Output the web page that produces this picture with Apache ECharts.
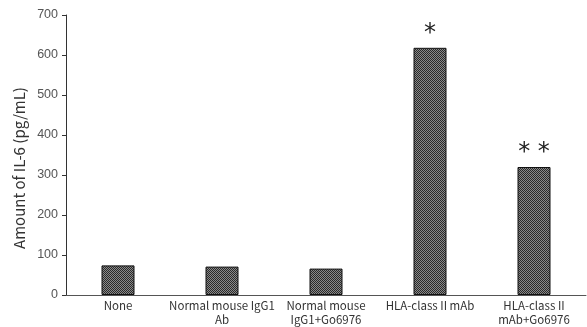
<!DOCTYPE html>
<html><head><meta charset="utf-8">
<script src="https://cdn.jsdelivr.net/npm/echarts@6/dist/echarts.min.js"></script>
<style>html,body{margin:0;padding:0;background:#fff}#c{width:587px;height:327px}</style>
</head><body><div id="c"></div>
<script>
const categories = ['None', 'Normal mouse IgG1\nAb', 'Normal mouse\nIgG1+Go6976', 'HLA-class II mAb', 'HLA-class II\nmAb+Go6976'];
const values = [74, 71, 66, 618, 320];
const marks = ['', '', '', '*', '* *'];
const yTicks = [0, 100, 200, 300, 400, 500, 600, 700];
const yName = 'Amount of IL-6 (pg/mL)';

const pc = document.createElement('canvas');
pc.width = 2; pc.height = 2;
const g = pc.getContext('2d');
g.fillStyle = '#8a8a8a'; g.fillRect(0,0,2,2);
g.fillStyle = '#2a2a2a'; g.fillRect(0,0,1,1); g.fillRect(1,1,1,1);

const chart = echarts.init(document.getElementById('c'));
chart.setOption({
  animation: false,
  grid: {left: 66, right: 1, top: 15, bottom: 32},
  graphic: [{
    type: 'text', x: 19, y: 168, rotation: Math.PI / 2,
    style: {text: yName, fill: '#333', fontSize: 15, fontFamily: 'Noto Sans CJK JP',
      align: 'center', verticalAlign: 'middle'}
  }],
  xAxis: {
    type: 'category', data: categories,
    axisLine: {lineStyle: {color: '#555', width: 1}},
    axisTick: {show: false},
    axisLabel: {color: '#333', fontSize: 11.5, fontFamily: 'Noto Sans CJK JP', lineHeight: 14, margin: 4, interval: 0}
  },
  yAxis: {
    type: 'value', min: yTicks[0], max: yTicks[yTicks.length-1], interval: 100,
    axisLine: {show: true, lineStyle: {color: '#333', width: 1}},
    axisTick: {show: true, length: 4, lineStyle: {color: '#333'}},
    splitLine: {show: false},
    axisLabel: {color: '#555', fontSize: 12.5, fontFamily: 'Liberation Sans', margin: 8}
  },
  series: [{
    type: 'bar', data: values, barWidth: 33,
    itemStyle: {color: {image: pc, repeat: 'repeat'}, borderColor: '#111', borderWidth: 1},
    label: {show: true, position: 'top', distance: 2,
      formatter: p => marks[p.dataIndex], fontSize: 24, color: '#222', fontFamily: 'DejaVu Sans'}
  }]
});
</script></body></html>
